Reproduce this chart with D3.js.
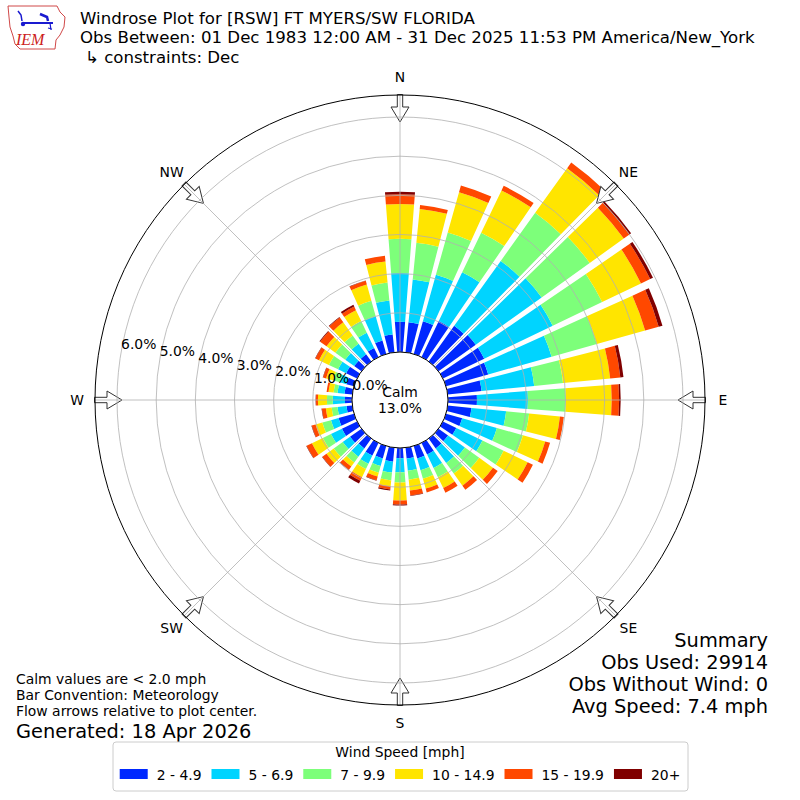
<!DOCTYPE html>
<html>
<head>
<meta charset="utf-8">
<script src="https://cdn.jsdelivr.net/npm/d3@7"></script>
<style>
  body { margin: 0; background: #fff; }
  text { font-family: "DejaVu Sans", sans-serif; fill: #000; }
</style>
</head>
<body>
<div id="chart"></div>
<script>
// wind directions (deg, meteorological) and speed classes
var directions = [0, 10, 20, 30, 40, 50, 60, 70, 80, 90, 100, 110, 120, 130, 140, 150, 160, 170,
                  180, 190, 200, 210, 220, 230, 240, 250, 260, 270, 280, 290, 300, 310, 320, 330, 340, 350];
var speedBins = ["2 - 4.9", "5 - 6.9", "7 - 9.9", "10 - 14.9", "15 - 19.9", "20+"];
var binColors = ["#0028ff", "#00d4ff", "#7dff7a", "#ffe500", "#ff4800", "#800000"];

// percent of obs per direction, one array per speed class
var spd2 = [0.77, 0.77, 0.87, 1.02, 1.12, 1.17, 1.17, 1.12, 0.87, 0.74, 0.61, 0.43, 0.38, 0.30, 0.31, 0.33, 0.33, 0.28,
            0.26, 0.36, 0.33, 0.36, 0.31, 0.36, 0.43, 0.41, 0.15, 0.18, 0.20, 0.20, 0.31, 0.23, 0.23, 0.26, 0.36, 0.46];
var spd5 = [1.25, 1.10, 1.23, 1.38, 2.04, 2.07, 1.94, 1.68, 1.35, 1.30, 0.89, 0.92, 0.74, 0.53, 0.46, 0.38, 0.31, 0.31,
            0.36, 0.28, 0.20, 0.23, 0.26, 0.23, 0.31, 0.20, 0.23, 0.31, 0.18, 0.18, 0.23, 0.28, 0.33, 0.43, 0.64, 0.87];
var spd7 = [0.87, 0.94, 1.12, 1.12, 1.51, 1.51, 1.40, 1.20, 0.74, 0.97, 0.59, 0.69, 0.60, 0.45, 0.33, 0.26, 0.23, 0.23,
            0.26, 0.20, 0.18, 0.15, 0.18, 0.28, 0.23, 0.23, 0.15, 0.15, 0.10, 0.18, 0.26, 0.31, 0.26, 0.33, 0.41, 0.46];
var spd10 = [0.89, 0.87, 1.07, 1.20, 1.40, 1.07, 1.10, 1.28, 1.21, 1.17, 0.79, 0.59, 0.68, 0.43, 0.38, 0.31, 0.26, 0.28,
             0.46, 0.15, 0.10, 0.23, 0.13, 0.23, 0.31, 0.18, 0.15, 0.23, 0.13, 0.18, 0.28, 0.28, 0.41, 0.31, 0.43, 0.54];
var spd15 = [0.25, 0.10, 0.18, 0.13, 0.18, 0.18, 0.26, 0.36, 0.26, 0.19, 0.10, 0.13, 0.15, 0.15, 0.13, 0.13, 0.10, 0.13,
             0.10, 0.08, 0.10, 0.10, 0.10, 0.13, 0.15, 0.10, 0.10, 0.05, 0.05, 0.08, 0.10, 0.20, 0.15, 0.10, 0.10, 0.15];
var spd20 = [0.06, 0.00, 0.00, 0.00, 0.00, 0.05, 0.08, 0.10, 0.08, 0.04, 0.00, 0.00, 0.00, 0.00, 0.00, 0.00, 0.00, 0.01,
             0.03, 0.03, 0.01, 0.08, 0.01, 0.01, 0.01, 0.01, 0.01, 0.01, 0.00, 0.01, 0.01, 0.02, 0.02, 0.05, 0.01, 0.00];

var ringTicks = [0, 1, 2, 3, 4, 5, 6];
var compassLabels = ["N", "NE", "E", "SE", "S", "SW", "W", "NW"];
var compassAngles = [0, 45, 90, 135, 180, 225, 270, 315];
var calmPct = 13.0;

var titleLines = ["Windrose Plot for [RSW] FT MYERS/SW FLORIDA",
                  "Obs Between: 01 Dec 1983 12:00 AM - 31 Dec 2025 11:53 PM America/New_York",
                  "\u21b3 constraints: Dec"];
var noteLines = ["Calm values are < 2.0 mph", "Bar Convention: Meteorology", "Flow arrows relative to plot center."];
var summaryLines = ["Summary", "Obs Used: 29914", "Obs Without Wind: 0", "Avg Speed: 7.4 mph"];

var svgWidth = 800;
var svgHeight = 800;
var cx = 400, cy = 400;
var calmR = 48, outerR = 305;
var smallFont = "13.9px";

var svg = d3.select("#chart").append("svg")
  .attr("width", svgWidth)
  .attr("height", svgHeight);

// table for the stack
var series = [spd2, spd5, spd7, spd10, spd15, spd20];
var rows = directions.map(function(d, i) {
  var row = { dir: d };
  speedBins.forEach(function(b, j) { row[b] = series[j][i]; });
  return row;
});
var stacked = d3.stack().keys(speedBins)(rows);

var maxTotal = d3.max(rows, function(r) { return d3.sum(speedBins, function(b) { return r[b]; }); });
var rScale = d3.scaleLinear().domain([0, maxTotal * 1.05]).range([calmR, outerR]);
var rad = Math.PI / 180;

var rose = svg.append("g").attr("transform", "translate(" + cx + "," + cy + ")");

// bars
var halfSpan = (10 - 1.27) / 2 * rad;
var arc = d3.arc()
  .innerRadius(function(d) { return rScale(d[0]); })
  .outerRadius(function(d) { return rScale(d[1]); })
  .startAngle(function(d) { return d.data.dir * rad - halfSpan; })
  .endAngle(function(d) { return d.data.dir * rad + halfSpan; })
  .padRadius(100)
  .padAngle(0.0167);

rose.selectAll(".layer")
  .data(stacked).enter().append("g")
  .attr("class", "layer")
  .attr("fill", function(d, i) { return binColors[i]; })
  .selectAll("path")
  .data(function(d) { return d.filter(function(p) { return p[1] - p[0] > 0; }); })
  .enter().append("path")
  .attr("d", arc);

// flow arrows, pointing to the centre
var arrowPath = "M-2.7,-305.5 L2.7,-305.5 L2.7,-293 L9,-293 L0,-278 L-9,-293 L-2.7,-293 Z";
rose.selectAll(".arrow")
  .data(compassAngles).enter().append("path")
  .attr("class", "arrow")
  .attr("d", arrowPath)
  .attr("transform", function(a) { return "rotate(" + a + ")"; })
  .attr("fill", "#fff")
  .attr("stroke", "#333")
  .attr("stroke-width", 1);

// grid
rose.selectAll(".ring")
  .data(ringTicks).enter().append("circle")
  .attr("class", "ring")
  .attr("r", function(t) { return rScale(t); })
  .attr("fill", "none")
  .attr("stroke", "#b0b0b0")
  .attr("stroke-width", 0.8);

rose.selectAll(".spoke")
  .data(compassAngles).enter().append("line")
  .attr("class", "spoke")
  .attr("x1", 0).attr("y1", 0)
  .attr("x2", function(a) { return outerR * Math.sin(a * rad); })
  .attr("y2", function(a) { return -outerR * Math.cos(a * rad); })
  .attr("stroke", "#b0b0b0")
  .attr("stroke-width", 0.8);

rose.append("circle")
  .attr("r", outerR)
  .attr("fill", "none")
  .attr("stroke", "#000")
  .attr("stroke-width", 1);

// calm circle
rose.append("circle")
  .attr("r", calmR)
  .attr("fill", "#fff")
  .attr("stroke", "#000")
  .attr("stroke-width", 1);

rose.append("text")
  .attr("x", 0).attr("y", -8)
  .attr("text-anchor", "middle")
  .attr("dominant-baseline", "central")
  .style("font-size", smallFont)
  .text("Calm");
rose.append("text")
  .attr("x", 0).attr("y", 8)
  .attr("text-anchor", "middle")
  .attr("dominant-baseline", "central")
  .style("font-size", smallFont)
  .text(calmPct.toFixed(1) + "%");

// ring labels
var labAng = 10 * rad;
rose.selectAll(".rlabel")
  .data(ringTicks).enter().append("text")
  .attr("class", "rlabel")
  .attr("x", function(t) { return -rScale(t) * Math.cos(labAng) + 17.4; })
  .attr("y", function(t) { return -rScale(t) * Math.sin(labAng) - 6.7; })
  .attr("text-anchor", "middle")
  .attr("dominant-baseline", "central")
  .style("font-size", smallFont)
  .text(function(t) { return t.toFixed(1) + "%"; });

// compass labels
rose.selectAll(".clabel")
  .data(compassLabels).enter().append("text")
  .attr("class", "clabel")
  .attr("x", function(d, i) { return 323 * Math.sin(compassAngles[i] * rad); })
  .attr("y", function(d, i) { return -323 * Math.cos(compassAngles[i] * rad); })
  .attr("text-anchor", "middle")
  .attr("dominant-baseline", "central")
  .style("font-size", smallFont)
  .text(function(d) { return d; });

// titles
svg.selectAll(".title")
  .data(titleLines).enter().append("text")
  .attr("class", "title")
  .attr("x", function(d, i) { return i == 2 ? 85 : 80; })
  .attr("y", function(d, i) { return 24 + i * 19.3; })
  .style("font-size", "16.6px")
  .text(function(d) { return d; });

// IEM logo (rough)
var logo = svg.append("g");
logo.append("path")
  .attr("d", "M8,6 L57,6 L60,12 L65,17 L64,27 L60,35 L56,40 L55,49 L20,49 L15,44 L13,36 L10,27 L9,17 Z")
  .attr("fill", "none")
  .attr("stroke", "#d04848")
  .attr("stroke-width", 1);
logo.append("line").attr("x1", 22).attr("y1", 23).attr("x2", 53).attr("y2", 23)
  .attr("stroke", "#1a1ad0").attr("stroke-width", 2);
logo.append("path").attr("d", "M18,11 L21,15 L22,21").attr("fill", "none")
  .attr("stroke", "#1a1ad0").attr("stroke-width", 1.5);
logo.append("circle").attr("cx", 23).attr("cy", 24).attr("r", 2.2).attr("fill", "#1a1ad0");
logo.append("path").attr("d", "M40,14 L47,17 L48,21").attr("fill", "none")
  .attr("stroke", "#1a1ad0").attr("stroke-width", 2.5);
logo.append("path").attr("d", "M50,23 L51,30 M48,28 L52,29").attr("fill", "none")
  .attr("stroke", "#1a1ad0").attr("stroke-width", 1.2);
logo.append("text")
  .attr("x", 16).attr("y", 45)
  .style("font-family", "'Liberation Serif', serif")
  .style("font-style", "italic")
  .style("font-size", "16px")
  .style("fill", "#cc2020")
  .text("IEM");

// notes bottom left
svg.selectAll(".note")
  .data(noteLines).enter().append("text")
  .attr("class", "note")
  .attr("x", 16)
  .attr("y", function(d, i) { return 684 + i * 16.2; })
  .style("font-size", smallFont)
  .text(function(d) { return d; });
svg.append("text")
  .attr("x", 16).attr("y", 738)
  .style("font-size", "19.4px")
  .text("Generated: 18 Apr 2026");

// summary bottom right
svg.selectAll(".summary")
  .data(summaryLines).enter().append("text")
  .attr("class", "summary")
  .attr("x", 768)
  .attr("y", function(d, i) { return 647 + i * 22; })
  .attr("text-anchor", "end")
  .style("font-size", "19.4px")
  .text(function(d) { return d; });

// legend
var legend = svg.append("g");
legend.append("rect")
  .attr("x", 113).attr("y", 742)
  .attr("width", 575).attr("height", 49)
  .attr("rx", 3)
  .attr("fill", "#fff")
  .attr("stroke", "#cccccc");
legend.append("text")
  .attr("x", 400).attr("y", 757)
  .attr("text-anchor", "middle")
  .style("font-size", smallFont)
  .text("Wind Speed [mph]");

var items = legend.selectAll(".item")
  .data(speedBins).enter().append("g")
  .attr("class", "item");
items.append("rect")
  .attr("width", 28).attr("height", 10)
  .attr("y", 769)
  .attr("fill", function(d, i) { return binColors[i]; });
items.append("text")
  .attr("y", 779.5)
  .style("font-size", smallFont)
  .text(function(d) { return d; });

// lay the items out in a row, centred
var widths = [];
items.selectAll("text").each(function() { widths.push(this.getComputedTextLength()); });
var totalW = d3.sum(widths) + speedBins.length * 37 + (speedBins.length - 1) * 10;
var xpos = 400 - totalW / 2;
items.each(function(d, i) {
  var g = d3.select(this);
  g.select("rect").attr("x", xpos);
  g.select("text").attr("x", xpos + 37);
  xpos += 37 + widths[i] + 10;
});
</script>
</body>
</html>
